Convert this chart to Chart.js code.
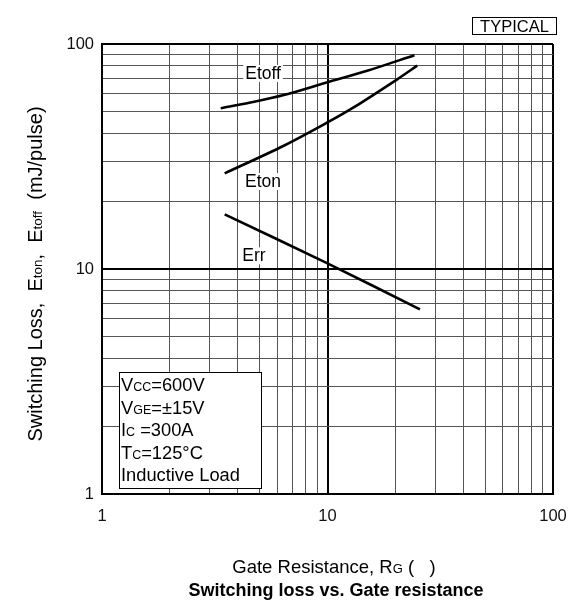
<!DOCTYPE html>
<html>
<head>
<meta charset="utf-8">
<script src="https://cdn.jsdelivr.net/npm/chart.js@4.4.1/dist/chart.umd.min.js"></script>
<style>body{margin:0;background:#fff}</style>
</head>
<body>
<canvas id="c" width="576" height="605"></canvas>
<script>
// log grid, one line per 1..9 of each decade
const gridTicks = [1,2,3,4,5,6,7,8,9,10,20,30,40,50,60,70,80,90,100];
const labelTicks = [1,10,100];

// curves (RG ohm -> mJ/pulse)
const etoffRg  = [3.36, 4.5, 6.4, 10, 15, 24.3];
const etoffVal = [51.8, 54.8, 59.3, 67.6, 76.0, 89.2];
const etonRg   = [3.5, 6.4, 10, 13, 20.3, 25];
const etonVal  = [26.6, 35.3, 44.8, 52.1, 69.5, 80.2];
const errRg    = [3.5, 10, 25.7];
const errVal   = [17.5, 10.6, 6.62];

const FONT = "'Liberation Sans', Arial, sans-serif";

const pts = (xs, ys) => xs.map((x, i) => ({x: x, y: ys[i]}));
const curve = (name, xs, ys) => ({
  label: name,
  data: pts(xs, ys),
  showLine: true,
  borderColor: "#000",
  borderWidth: 2.6,
  pointRadius: 0,
  tension: 0.3
});

// draws text made of pieces with different sizes, on one baseline
function runs(ctx, parts, x, y, align) {
  let w = 0;
  parts.forEach(p => { ctx.font = (p[2] || "") + p[1] + "px " + FONT; w += ctx.measureText(p[0]).width; });
  let cx = align === "center" ? x - w / 2 : x;
  ctx.textAlign = "left";
  ctx.textBaseline = "alphabetic";
  parts.forEach(p => {
    ctx.font = (p[2] || "") + p[1] + "px " + FONT;
    ctx.fillText(p[0], cx, y);
    cx += ctx.measureText(p[0]).width;
  });
  return w;
}

const extras = {
  id: "extras",
  afterDraw(chart) {
    const ctx = chart.ctx;
    const xs = chart.scales.x, ys = chart.scales.y;
    ctx.save();
    ctx.fillStyle = "#000";

    // curve names with white patch behind
    [["Etoff", 5.18, 74.3], ["Eton", 5.18, 24.6], ["Err", 4.72, 11.5]].forEach(l => {
      const px = xs.getPixelForValue(l[1]), py = ys.getPixelForValue(l[2]);
      ctx.font = "17.5px " + FONT;
      const w = ctx.measureText(l[0]).width;
      ctx.fillStyle = "#fff";
      ctx.fillRect(px - w / 2 - 2, py - 8, w + 4, 17);
      ctx.fillStyle = "#000";
      ctx.textAlign = "center";
      ctx.textBaseline = "middle";
      ctx.fillText(l[0], px, py + 1);
    });

    // conditions box
    ctx.fillStyle = "#fff";
    ctx.fillRect(119, 372, 142, 116);
    ctx.strokeStyle = "#000";
    ctx.lineWidth = 1;
    ctx.strokeRect(119.5, 372.5, 142, 116);
    ctx.fillStyle = "#000";
    const cond = [
      [["V", 18.3], ["CC", 12.5], ["=600V", 18.3]],
      [["V", 18.3], ["GE", 12.5], ["=\u00b115V", 18.3]],
      [["I", 18.3], ["C", 12.5], [" =300A", 18.3]],
      [["T", 18.3], ["C", 12.5], ["=125\u00b0C", 18.3]],
      [["Inductive Load", 18.3]]
    ];
    cond.forEach((line, i) => runs(ctx, line, 121, 391 + i * 22.5));

    // TYPICAL tag
    ctx.strokeRect(472.5, 17.5, 84, 17);
    ctx.font = "16.5px " + FONT;
    ctx.textAlign = "center";
    ctx.textBaseline = "middle";
    ctx.fillText("TYPICAL", 514.5, 27);

    // axis titles
    runs(ctx, [["Gate Resistance, R", 18.5], ["G", 13], [" (   )", 18.5]], 334, 573, "center");
    runs(ctx, [["Switching loss vs. Gate resistance", 18, "bold "]], 336, 596, "center");

    ctx.translate(42, 274);
    ctx.rotate(-Math.PI / 2);
    runs(ctx, [["Switching Loss,  E", 20], ["ton", 13.5], [",  E", 20], ["toff", 13.5], ["  (mJ/pulse)", 20]], 0, 0, "center");
    ctx.restore();
  }
};

const gridColor = c => labelTicks.includes(c.tick && c.tick.value) ? "#000" : "#555";
const gridWidth = c => labelTicks.includes(c.tick && c.tick.value) ? 2 : 1;

new Chart(document.getElementById("c"), {
  type: "scatter",
  data: {
    datasets: [
      curve("Etoff", etoffRg, etoffVal),
      curve("Eton", etonRg, etonVal),
      curve("Err", errRg, errVal)
    ]
  },
  options: {
    responsive: false,
    animation: false,
    devicePixelRatio: 1,
    layout: { padding: { top: 44, right: 23, left: 0, bottom: 0 } },
    plugins: { legend: { display: false }, tooltip: { enabled: false } },
    scales: {
      x: {
        type: "logarithmic",
        min: 1, max: 100,
        afterBuildTicks: s => { s.ticks = gridTicks.map(v => ({value: v})); },
        afterFit: s => { s.height = 111; s.paddingLeft = 0; s.paddingRight = 0; },
        grid: { color: gridColor, lineWidth: gridWidth, drawTicks: false },
        border: { color: "#000", width: 2 },
        ticks: {
          autoSkip: false, maxRotation: 0, padding: 13, color: "#111",
          font: { family: FONT, size: 16.5 },
          callback: v => labelTicks.includes(v) ? String(v) : ""
        }
      },
      y: {
        type: "logarithmic",
        min: 1, max: 100,
        afterBuildTicks: s => { s.ticks = gridTicks.map(v => ({value: v})); },
        afterFit: s => { s.width = 102; s.paddingTop = 0; s.paddingBottom = 0; },
        grid: { color: gridColor, lineWidth: gridWidth, drawTicks: false },
        border: { color: "#000", width: 2 },
        ticks: {
          autoSkip: false, padding: 8, color: "#111",
          font: { family: FONT, size: 16.5 },
          callback: v => labelTicks.includes(v) ? String(v) : ""
        }
      }
    }
  },
  plugins: [extras]
});
</script>
</body>
</html>
